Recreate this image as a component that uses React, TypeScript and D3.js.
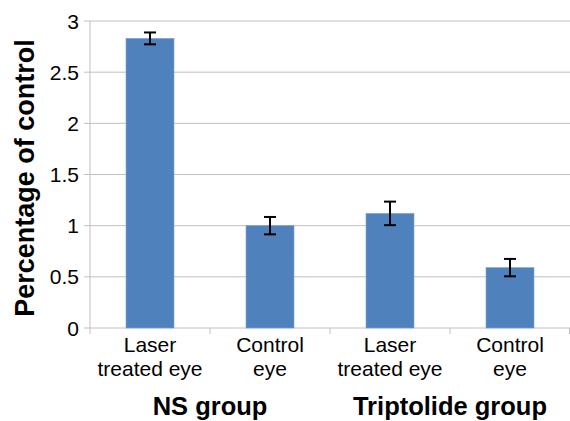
import React from "react";
import * as d3 from "d3";

const categories = ["NS-laser", "NS-control", "TP-laser", "TP-control"];
const labelLines = [
  ["Laser", "treated eye"],
  ["Control", "eye"],
  ["Laser", "treated eye"],
  ["Control", "eye"],
];
const values = [2.83, 1.0, 1.12, 0.59];
const errors = [0.058, 0.085, 0.115, 0.085];
const yTicks = [0, 0.5, 1, 1.5, 2, 2.5, 3];
const groups = ["NS group", "Triptolide group"];
const groupCenters = [1, 3]; // index between categories
const yTitle = "Percentage of control";

export default function App() {
  const W = 570, H = 421;
  const left = 90, right = 570, top = 21, bottom = 328;
  const x = d3.scaleBand().domain(categories).range([left, right]).paddingInner(0.6).paddingOuter(0.3);
  const xOuter = d3.scaleBand().domain(categories).range([left, right]);
  const y = d3.scaleLinear().domain([0, 3]).range([bottom, top]);
  const font = "Liberation Sans, Arial, sans-serif";
  const gridColor = "#c0c0c0";
  return (
    <svg width={W} height={H} style={{ position: "absolute", left: 0, top: 0, background: "#fff" }} fontFamily={font}>
      {yTicks.map((t) => (
        <g key={t}>
          <line x1={left - 6} x2={right} y1={y(t)} y2={y(t)} stroke={gridColor} strokeWidth={1} />
          <text x={left - 11} y={y(t)} dy="0.36em" textAnchor="end" fontSize={21} fill="#000">
            {d3.format("")(t)}
          </text>
        </g>
      ))}
      <line x1={left} x2={left} y1={top} y2={bottom} stroke={gridColor} strokeWidth={1} />
      {categories.map((c) => (
        <line key={c} x1={xOuter(c)!} x2={xOuter(c)!} y1={bottom} y2={bottom + 6} stroke={gridColor} />
      ))}
      <line x1={right - 0.5} x2={right - 0.5} y1={bottom} y2={bottom + 6} stroke={gridColor} />
      {categories.map((c, i) => (
        <rect key={c} x={x(c)!} y={y(values[i])} width={x.bandwidth()} height={bottom - y(values[i])} fill="#4f81bd" stroke="#7fa3d1" strokeWidth={0.6} />
      ))}
      {categories.map((c, i) => {
        const cx = x(c)! + x.bandwidth() / 2;
        const hi = y(values[i] + errors[i]);
        const lo = y(values[i] - errors[i]);
        return (
          <g key={c} stroke="#000" strokeWidth={2}>
            <line x1={cx} x2={cx} y1={hi} y2={lo} />
            <line x1={cx - 6} x2={cx + 6} y1={hi} y2={hi} />
            <line x1={cx - 6} x2={cx + 6} y1={lo} y2={lo} />
          </g>
        );
      })}
      {categories.map((c, i) => {
        const cx = xOuter(c)! + xOuter.bandwidth() / 2;
        return (
          <text key={c} x={cx} textAnchor="middle" fontSize={21} fill="#000">
            {labelLines[i].map((l, j) => (
              <tspan key={j} x={cx} y={352 + j * 24}>{l}</tspan>
            ))}
          </text>
        );
      })}
      {groups.map((g, i) => (
        <text key={g} x={xOuter(categories[groupCenters[i]])!} y={415} textAnchor="middle" fontSize={25.5} fontWeight="bold" fill="#000">
          {g}
        </text>
      ))}
      <text transform={`translate(34,178) rotate(-90)`} textAnchor="middle" fontSize={27} fontWeight="bold" fill="#000">
        {yTitle}
      </text>
    </svg>
  );
}
